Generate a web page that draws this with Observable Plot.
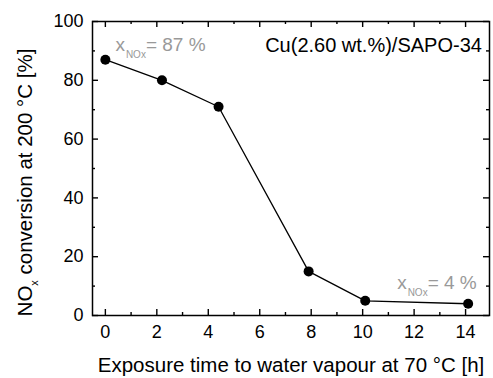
<!DOCTYPE html>
<html><head><meta charset="utf-8">
<script src="https://cdn.jsdelivr.net/npm/d3@7"></script>
<script src="https://cdn.jsdelivr.net/npm/@observablehq/plot@0.6"></script>
<style>body{margin:0;background:#fff}</style>
</head><body><div id="chart"></div>
<script>
const time = [0, 2.2, 4.4, 7.9, 10.1, 14.1];
const conversion = [87, 80, 71, 15, 5, 4];
const xMajor = [0, 2, 4, 6, 8, 10, 12, 14];
const xMinor = [1, 3, 5, 7, 9, 11, 13];
const yMajor = [0, 20, 40, 60, 80, 100];
const yMinor = [10, 30, 50, 70, 90];
const annotX = [0.39, 11.34];
const annotY = [92, 11.2];
const annotValue = ["87 %", "4 %"];
const sampleLabel = "Cu(2.60 wt.%)/SAPO-34";

const data = time.map((t, i) => ({t, c: conversion[i]}));
const annots = annotX.map((x, i) => ({x, y: annotY[i], v: annotValue[i]}));

const W = 493, H = 378, mL = 92, mT = 21, mR = 4, mB = 63;
const innerW = W - mL - mR, innerH = H - mT - mB;
const font = 18;
const labelFont = 20.5;
const sw = 1.4;
const plot = Plot.plot({
  width: W, height: H,
  marginLeft: mL, marginTop: mT, marginRight: mR, marginBottom: mB,
  style: {fontFamily: "'Liberation Sans', Arial, sans-serif", fontSize: font + "px", background: "#fff", color: "#000"},
  x: {domain: [-0.5, 14.93]},
  y: {domain: [0, 100]},
  marks: [
    Plot.axisX({ticks: xMajor, tickSize: 0, tickPadding: 10, fontSize: font, label: "Exposure time to water vapour at 70 °C [h]", labelAnchor: "center", labelOffset: 56, labelArrow: "none"}),
    Plot.axisY({ticks: yMajor, tickSize: 0, tickPadding: 9, fontSize: font, label: "NOx conversion at 200 °C [%]", labelAnchor: "center", labelOffset: 75, labelArrow: "none"}),
    Plot.tickX(xMajor, {x: d => d, insetTop: innerH - 6, stroke: "#000", strokeWidth: sw}),
    Plot.tickX(xMinor, {x: d => d, insetTop: innerH - 3, stroke: "#000", strokeWidth: sw}),
    Plot.tickX(xMajor, {x: d => d, insetBottom: innerH - 6, stroke: "#000", strokeWidth: sw}),
    Plot.tickX(xMinor, {x: d => d, insetBottom: innerH - 3, stroke: "#000", strokeWidth: sw}),
    Plot.tickY(yMajor, {y: d => d, insetRight: innerW - 6, stroke: "#000", strokeWidth: sw}),
    Plot.tickY(yMinor, {y: d => d, insetRight: innerW - 3, stroke: "#000", strokeWidth: sw}),
    Plot.tickY(yMajor, {y: d => d, insetLeft: innerW - 6, stroke: "#000", strokeWidth: sw}),
    Plot.tickY(yMinor, {y: d => d, insetLeft: innerW - 3, stroke: "#000", strokeWidth: sw}),
    Plot.frame({stroke: "#000", strokeWidth: 1.5}),
    Plot.line(data, {x: "t", y: "c", stroke: "#000", strokeWidth: 1.3}),
    Plot.dot(data, {x: "t", y: "c", r: 5, fill: "#000", stroke: "none"}),
    Plot.text(annots, {x: "x", y: "y", text: d => "x|NOx|= " + d.v, textAnchor: "start", fill: "#999", fontSize: 19, className: "annot"}),
    Plot.text([sampleLabel], {text: d => d, frameAnchor: "top-right", textAnchor: "end", lineAnchor: "top", dx: -7.6, dy: 15.8, fontSize: 20, fill: "#000"})
  ]
});
document.getElementById("chart").appendChild(plot);

const svg = d3.select(plot);
svg.selectAll("g[aria-label='x-axis label'] text").attr("font-size", labelFont);
svg.selectAll("g.annot text").each(function() {
  const el = d3.select(this);
  const parts = el.text().split("|");
  el.text(null);
  el.append("tspan").text(parts[0]);
  el.append("tspan").attr("font-size", 10).attr("dy", 7).attr("dx", 1).text(parts[1]);
  el.append("tspan").attr("dy", -7).text(parts[2]);
});
svg.selectAll("g[aria-label='y-axis label'] text").attr("font-size", labelFont).each(function() {
  const el = d3.select(this);
  el.text(null);
  el.append("tspan").attr("dx", -14).text("NO");
  el.append("tspan").attr("font-size", 11).attr("dy", 6).text("x");
  el.append("tspan").attr("dy", -6).text(" conversion at 200 °C [%]");
});
</script></body></html>
